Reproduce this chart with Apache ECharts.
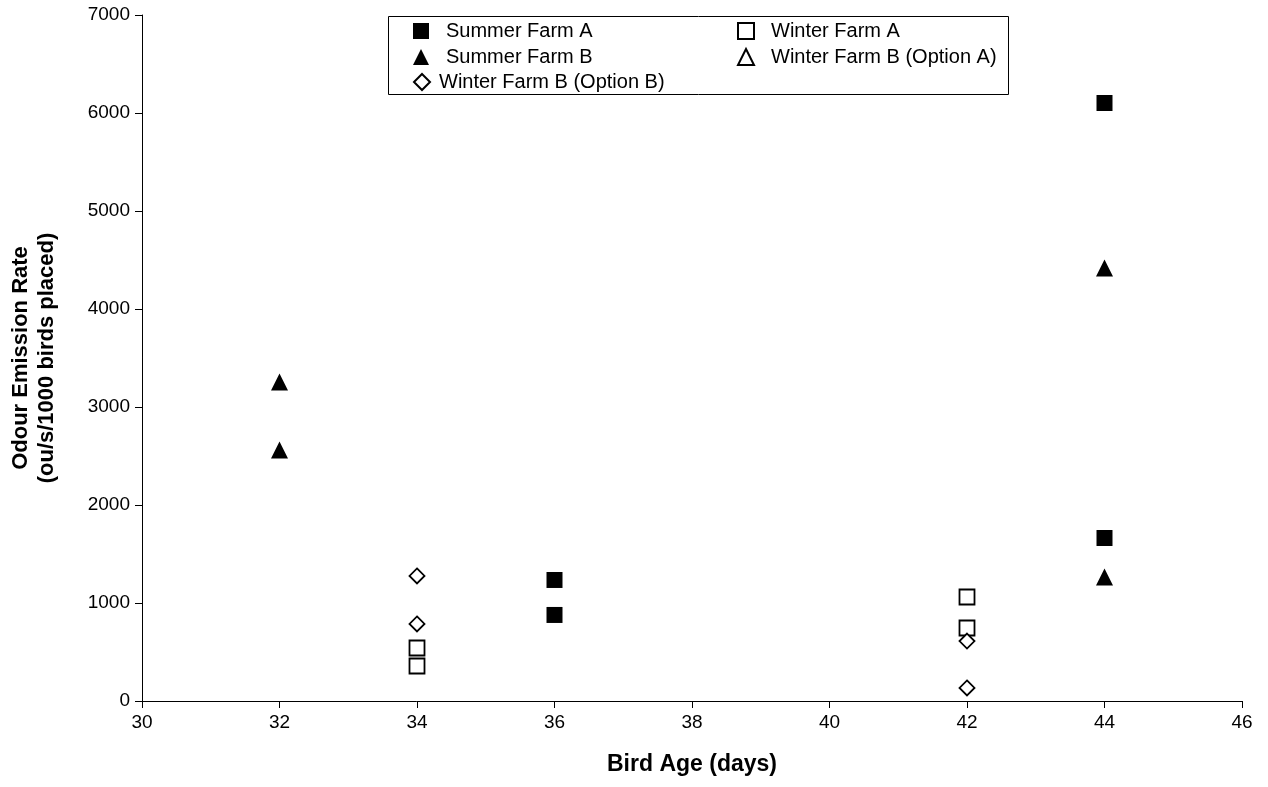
<!DOCTYPE html>
<html><head><meta charset="utf-8">
<script src="https://cdn.jsdelivr.net/npm/echarts@6/dist/echarts.min.js"></script>
<style>html,body{margin:0;padding:0;background:#fff}#c{width:1268px;height:787px}</style>
</head><body><div id="c"></div>
<script>
const xTicks = [30, 32, 34, 36, 38, 40, 42, 44, 46];
const yTicks = [0, 1000, 2000, 3000, 4000, 5000, 6000, 7000];
const summerA = [[36, 1235], [36, 878], [44, 6102], [44, 1663]];
const summerB = [[32, 3255], [32, 2561], [44, 4418], [44, 1265]];
const winterA = [[34, 541], [34, 357], [42, 1061], [42, 745]];
const winterBOptA = [];
const winterBOptB = [[34, 1276], [34, 786], [42, 612], [42, 133]];

const F = 'Liberation Sans, Arial, sans-serif';
const chart = echarts.init(document.getElementById('c'), null, {renderer: 'canvas'});
function ser(name, data, symbol, size, filled) {
  return {
    name, type: 'scatter', data, symbol, symbolSize: size,
    itemStyle: filled ? {color: '#000', borderColor: '#000', borderWidth: 0, opacity: 1}
                      : {color: '#fff', borderColor: '#000', borderWidth: 1.8, opacity: 1},
    emphasis: {disabled: true}
  };
}
function legText(pad) { return {fontFamily: F, fontSize: 20, color: '#000', lineHeight: 20, padding: [0, 0, 0, pad]}; }
chart.setOption({
  animation: false,
  backgroundColor: '#fff',
  grid: {left: 142, right: 26, top: 15, bottom: 86},
  xAxis: {
    type: 'value', min: xTicks[0], max: xTicks[xTicks.length - 1], interval: 2,
    name: 'Bird Age (days)', nameLocation: 'middle', nameGap: 52,
    nameTextStyle: {fontFamily: F, fontSize: 23, fontWeight: 'bold', color: '#000'},
    axisLine: {onZero: false, lineStyle: {color: '#000', width: 1}},
    axisTick: {show: true, length: 7, lineStyle: {color: '#000'}},
    axisLabel: {fontFamily: F, fontSize: 19, color: '#000', margin: 12, formatter: v => String(v)},
    splitLine: {show: false}
  },
  yAxis: {
    type: 'value', min: yTicks[0], max: yTicks[yTicks.length - 1], interval: 1000,
    name: 'Odour Emission Rate\n(ou/s/1000 birds placed)', nameLocation: 'middle', nameGap: 82,
    nameTextStyle: {fontFamily: F, fontSize: 22, fontWeight: 'bold', color: '#000', lineHeight: 26},
    axisLine: {show: true, lineStyle: {color: '#000', width: 1}},
    axisTick: {show: true, length: 7, lineStyle: {color: '#000'}},
    axisLabel: {fontFamily: F, fontSize: 19, color: '#000', margin: 12, formatter: v => String(v)},
    splitLine: {show: false}
  },
  legend: [
    {left: 413, top: 21, padding: 0, orient: 'vertical', itemWidth: 16, itemHeight: 16, itemGap: 6,
     textStyle: legText(12), data: ['Summer Farm A', 'Summer Farm B'], selectedMode: false},
    {left: 737, top: 21, padding: 0, orient: 'vertical', itemWidth: 16, itemHeight: 16, itemGap: 6,
     textStyle: legText(12), data: ['Winter Farm A', 'Winter Farm B (Option A)'], selectedMode: false},
    {left: 413, top: 72, padding: 0, orient: 'vertical', itemWidth: 16, itemHeight: 16, itemGap: 6,
     textStyle: legText(4), data: ['Winter Farm B (Option B)'], selectedMode: false}
  ],
  graphic: [{type: 'rect', z: 10, silent: true,
    shape: {x: 388.5, y: 16.5, width: 620, height: 78}, style: {fill: 'none', stroke: '#000', lineWidth: 1}}],
  series: [
    ser('Summer Farm A', summerA, 'rect', 16, true),
    ser('Winter Farm A', winterA, 'rect', 15, false),
    ser('Summer Farm B', summerB, 'triangle', 17, true),
    ser('Winter Farm B (Option A)', winterBOptA, 'triangle', 16, false),
    ser('Winter Farm B (Option B)', winterBOptB, 'diamond', 15, false)
  ]
});
</script></body></html>
